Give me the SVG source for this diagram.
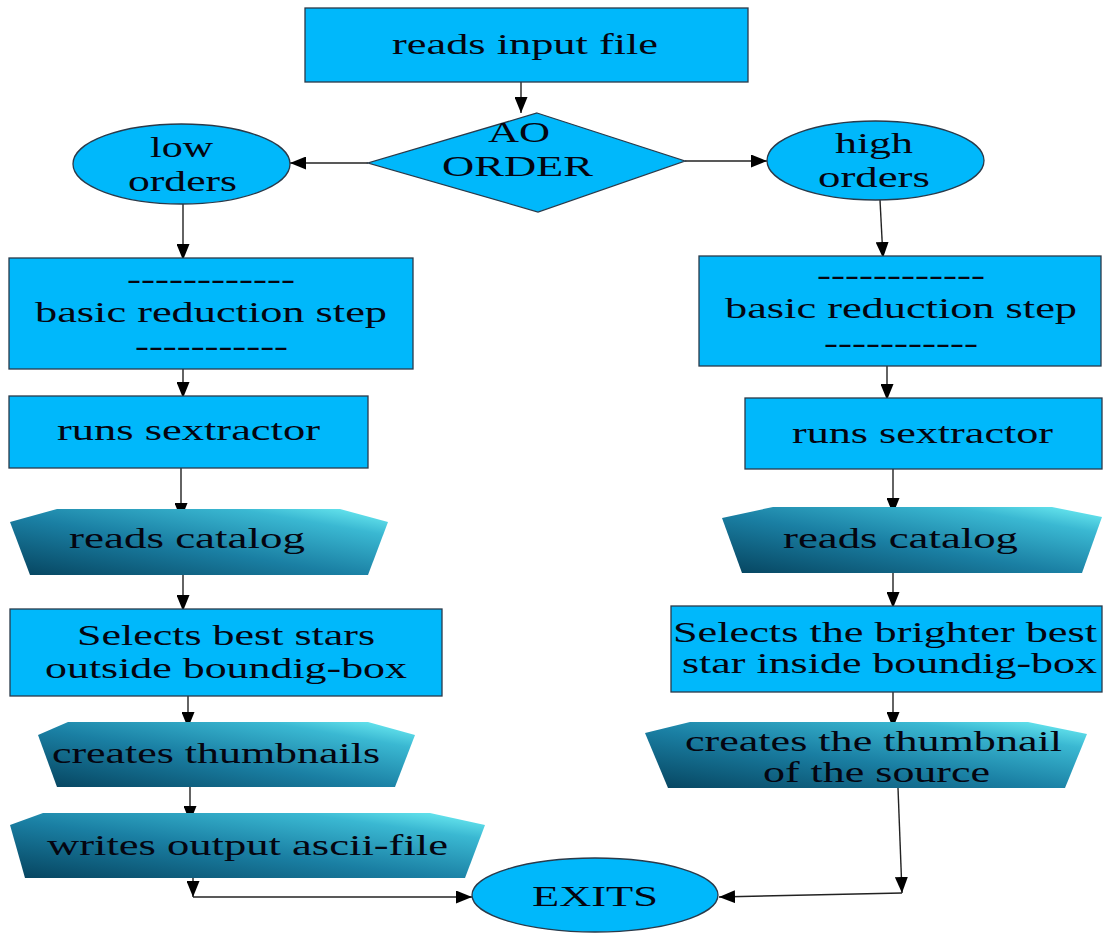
<svg xmlns="http://www.w3.org/2000/svg" width="1105" height="933" viewBox="0 0 1105 933">
<style>
.box{fill:#00b8fb;stroke:#2a3a4a;stroke-width:1.3}
.grad{fill:url(#g)}
.t{font-family:"Liberation Serif","Times New Roman",serif;font-size:30px;fill:#050510}
.c{stroke:#222;stroke-width:1.4;fill:none;marker-end:url(#ah)}
</style>
<defs>
<linearGradient id="g" x1="0" y1="1" x2="1" y2="0">
<stop offset="0" stop-color="#06445f"/>
<stop offset="0.45" stop-color="#1a7fa3"/>
<stop offset="0.8" stop-color="#3ab8d2"/>
<stop offset="1" stop-color="#72f2f6"/>
</linearGradient>
<marker id="ah" markerUnits="userSpaceOnUse" markerWidth="16" markerHeight="13" viewBox="0 0 16 13" refX="16" refY="6.5" orient="auto">
<path d="M0,0 L16,6.5 L0,13 z" fill="#000"/>
</marker>
</defs>
<rect width="1105" height="933" fill="#fff"/>

<g id="connectors">
<path class="c" d="M521,82 L521,113"/>
<path class="c" d="M368,163 L290,163"/>
<path class="c" d="M685,161 L767,161"/>
<path class="c" d="M183,204 L183,260"/>
<path class="c" d="M880,200 L883,258"/>
<path class="c" d="M183,369 L183,398"/>
<path class="c" d="M887,366 L887,400"/>
<path class="c" d="M181,468 L181,519"/>
<path class="c" d="M893,469 L893,514"/>
<path class="c" d="M183,575 L183,611"/>
<path class="c" d="M893,573 L893,608"/>
<path class="c" d="M188,696 L188,728"/>
<path class="c" d="M893,692 L893,728"/>
<path class="c" d="M190,787 L190,822"/>
<path class="c" d="M193,878 L193,897"/>
<path class="c" d="M193,897 L472,897"/>
<path class="c" d="M898,788 L902,893"/>
<path class="c" d="M902,893 L719,897"/>
</g>

<g id="n-input">
<rect class="box" x="305" y="8" width="443" height="74"/>
<text class="t" x="392" y="54" textLength="266" lengthAdjust="spacingAndGlyphs">reads input file</text>
</g>

<g id="n-ao">
<polygon class="box" points="537,113 685,161 538,212 368,163"/>
<text class="t" x="488" y="142" textLength="62" lengthAdjust="spacingAndGlyphs">AO</text>
<text class="t" x="442" y="176" textLength="151" lengthAdjust="spacingAndGlyphs">ORDER</text>
</g>

<g id="n-low">
<ellipse class="box" cx="181.5" cy="164" rx="108.5" ry="40"/>
<text class="t" x="150" y="157" textLength="63" lengthAdjust="spacingAndGlyphs">low</text>
<text class="t" x="128" y="191" textLength="109" lengthAdjust="spacingAndGlyphs">orders</text>
</g>

<g id="n-high">
<ellipse class="box" cx="875.5" cy="160.5" rx="108.5" ry="39.5"/>
<text class="t" x="835" y="153" textLength="78" lengthAdjust="spacingAndGlyphs">high</text>
<text class="t" x="818" y="187" textLength="112" lengthAdjust="spacingAndGlyphs">orders</text>
</g>

<g id="n-basic-left">
<rect class="box" x="9" y="258" width="404" height="111"/>
<text class="t" x="127" y="289" textLength="168" lengthAdjust="spacingAndGlyphs">------------</text>
<text class="t" x="35" y="322" textLength="352" lengthAdjust="spacingAndGlyphs">basic reduction step</text>
<text class="t" x="135" y="356" textLength="153" lengthAdjust="spacingAndGlyphs">-----------</text>
</g>

<g id="n-basic-right">
<rect class="box" x="699" y="256" width="402" height="110"/>
<text class="t" x="817" y="285" textLength="168" lengthAdjust="spacingAndGlyphs">------------</text>
<text class="t" x="725" y="318" textLength="352" lengthAdjust="spacingAndGlyphs">basic reduction step</text>
<text class="t" x="824" y="353" textLength="154" lengthAdjust="spacingAndGlyphs">-----------</text>
</g>

<g id="n-sex-left">
<rect class="box" x="9" y="396" width="359" height="72"/>
<text class="t" x="57" y="440" textLength="263" lengthAdjust="spacingAndGlyphs">runs sextractor</text>
</g>

<g id="n-sex-right">
<rect class="box" x="745" y="398" width="357" height="71"/>
<text class="t" x="792" y="443" textLength="261" lengthAdjust="spacingAndGlyphs">runs sextractor</text>
</g>

<g id="n-cat-left">
<polygon class="grad" points="10,522 57,509 340,509 388,522 368,575 30,575"/>
<text class="t" x="69" y="548" textLength="236" lengthAdjust="spacingAndGlyphs">reads catalog</text>
</g>

<g id="n-cat-right">
<polygon class="grad" points="722,518 773,507 1052,507 1102,517 1082,573 742,573"/>
<text class="t" x="783" y="548" textLength="235" lengthAdjust="spacingAndGlyphs">reads catalog</text>
</g>

<g id="n-sel-left">
<rect class="box" x="10" y="609" width="432" height="87"/>
<text class="t" x="77" y="645" textLength="298" lengthAdjust="spacingAndGlyphs">Selects best stars</text>
<text class="t" x="45" y="678" textLength="362" lengthAdjust="spacingAndGlyphs">outside boundig-box</text>
</g>

<g id="n-sel-right">
<rect class="box" x="671" y="606" width="431" height="86"/>
<text class="t" x="673" y="642" textLength="424" lengthAdjust="spacingAndGlyphs">Selects the brighter best</text>
<text class="t" x="682" y="673" textLength="415" lengthAdjust="spacingAndGlyphs">star inside boundig-box</text>
</g>

<g id="n-thumb-left">
<polygon class="grad" points="38,735 68,722 368,722 415,735 395,787 57,787"/>
<text class="t" x="52" y="763" textLength="328" lengthAdjust="spacingAndGlyphs">creates thumbnails</text>
</g>

<g id="n-thumb-right">
<polygon class="grad" points="645,733 690,722 1028,722 1087,734 1065,788 668,788"/>
<text class="t" x="685" y="751" textLength="377" lengthAdjust="spacingAndGlyphs">creates the thumbnail</text>
<text class="t" x="763" y="782" textLength="227" lengthAdjust="spacingAndGlyphs">of the source</text>
</g>

<g id="n-writes">
<polygon class="grad" points="10,825 43,813 430,813 485,825 465,878 25,878"/>
<text class="t" x="47" y="855" textLength="401" lengthAdjust="spacingAndGlyphs">writes output ascii-file</text>
</g>

<g id="n-exits">
<ellipse class="box" cx="595" cy="895" rx="123" ry="37"/>
<text class="t" x="532" y="906" textLength="126" lengthAdjust="spacingAndGlyphs">EXITS</text>
</g>
</svg>
